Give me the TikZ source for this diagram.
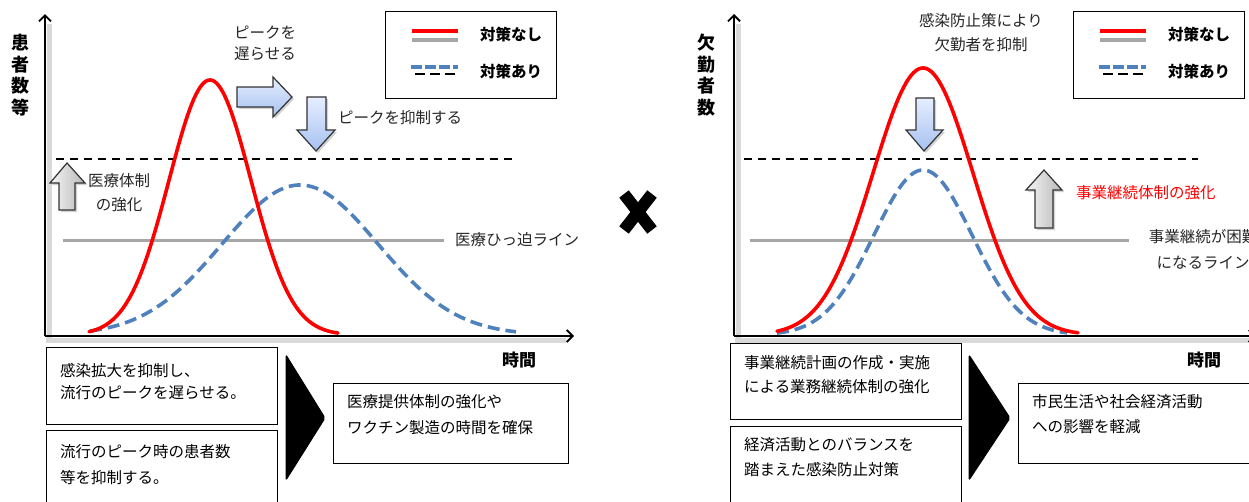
\documentclass[tikz,border=0pt]{standalone}
\usepackage{fontspec}
\setmainfont{Noto Sans CJK JP}
\usetikzlibrary{shadows,arrows.meta}
\definecolor{curvered}{HTML}{FF0000}
\definecolor{curveblue}{HTML}{4F81BD}
\definecolor{lvlgray}{HTML}{A6A6A6}
\definecolor{arrblueA}{HTML}{E6EEFF}
\definecolor{arrblueB}{HTML}{A6C1F0}
\definecolor{labtext}{HTML}{262626}
\begin{document}
\begin{tikzpicture}[x=1pt,y=-1pt,
  axisline/.style={line width=2.2pt,draw=black,-{Straight Barb[length=6pt,width=12pt,line width=1.8pt]}},
  axisshadow/.style={line width=5pt,draw=gray!30},
  redcurve/.style={line width=3.6pt,draw=curvered,line cap=round},
  bluecurve/.style={line width=3.6pt,draw=curveblue,dash pattern=on 12pt off 6pt},
  limitline/.style={line width=2.6pt,draw=black,dash pattern=on 8pt off 6pt},
  grayline/.style={line width=3pt,draw=lvlgray},
  legbox/.style={draw=black,line width=1.2pt,fill=white},
  txtbox/.style={draw=black,line width=1.2pt,anchor=north west,inner sep=0pt},
  lab/.style={font=\fontsize{15.5}{22}\selectfont,text=labtext,inner sep=0pt},
  boxtxt/.style={font=\fontsize{15.5}{22}\selectfont,text=black,inner sep=0pt,align=left,anchor=west},
  boldlab/.style={font=\fontsize{15.5}{20}\selectfont\bfseries,inner sep=0pt},
  vlab/.style={font=\fontsize{18}{21.5}\selectfont\bfseries,inner sep=0pt,align=center},
  bluearrow/.style={draw=black!80,line width=1.2pt,top color=arrblueA,bottom color=arrblueB,drop shadow={opacity=0.35,shadow xshift=2pt,shadow yshift=-2pt}},
  grayarrow/.style={draw=black!80,line width=1.2pt,left color=gray!8,right color=gray!55,drop shadow={opacity=0.35,shadow xshift=2pt,shadow yshift=-2pt}},
  chevron/.style={fill=black,draw=black,line width=1pt,rounded corners=2pt}
]
\useasboundingbox[fill=white] (0,0) rectangle (1249,501);

% ================= LEFT PANEL =================
% axes
\draw[axisshadow] (49,24) -- (49,340);
\draw[axisshadow] (46,340) -- (566,340);
\coordinate (LO) at (45,336);
\coordinate (LY) at (45,14);
\coordinate (LX) at (574,336);
\draw[axisline] (LO) -- (LY);
\draw[axisline] (LO) -- (LX);
\node[vlab] (ylabL) at (20,75) {患\\者\\数\\等};
\node[boldlab,font=\fontsize{17}{20}\selectfont\bfseries] (timeL) at (519,360) {時間};

% legend
\node[legbox,minimum width=171pt,minimum height=87pt,anchor=north west,inner sep=0pt] (legL) at (385,10.5) {};
\draw[line width=3.5pt,draw=curvered] (412,31) -- (458,31);
\draw[line width=3.5pt,draw=lvlgray] (412,40) -- (458,40);
\draw[line width=3.5pt,draw=curveblue,dash pattern=on 10.5pt off 3.5pt] (411,67) -- (458,67);
\draw[line width=2.6pt,draw=black,dash pattern=on 10pt off 5pt] (415,74) -- (456,74);
\node[boldlab,anchor=west] (legL1) at (480,35) {対策なし};
\node[boldlab,anchor=west] (legL2) at (480,72) {対策あり};

% levels
\draw[limitline] (56,159) -- (513,159);
\draw[grayline] (63,240) -- (444,240);
\node[lab,anchor=west] (limL) at (455,240) {医療ひっ迫ライン};

% curves
\draw[bluecurve] plot[domain=90:516,samples=120] (\x,{335-150*exp(-((\x-300)/78)*((\x-300)/78)/2)});
\draw[redcurve] plot[domain=89:338,samples=120] (\x,{335-255*exp(-((\x-210)/41)*((\x-210)/41)/2)});

% block arrows
\draw[bluearrow] (237,87) -- (273,87) -- (273,77) -- (292,97) -- (273,117) -- (273,107) -- (237,107) -- cycle;
\draw[bluearrow] (307,97) -- (326,97) -- (326,130) -- (335,130) -- (316,151) -- (297,130) -- (307,130) -- cycle;
\draw[grayarrow] (67,163) -- (85,183) -- (75,183) -- (75,210) -- (59,210) -- (59,183) -- (50,183) -- cycle;

\node[lab,align=center,font=\fontsize{15.5}{21}\selectfont] (delayL) at (265,43) {ピークを\\遅らせる};
\node[lab,anchor=west] (suppL) at (338,118) {ピークを抑制する};
\node[lab,align=center,font=\fontsize{15.5}{24}\selectfont] (medL) at (119,193) {医療体制\\の強化};

% boxes
\node[txtbox,minimum width=231pt,minimum height=77pt] (b1) at (46,347) {};
\node[boxtxt] (b1t) at (60,382) {感染拡大を抑制し、\\流行のピークを遅らせる。};
\node[txtbox,minimum width=231pt,minimum height=90pt] (b2) at (46,430) {};
\node[boxtxt,font=\fontsize{15.5}{26}\selectfont] (b2t) at (60,465) {流行のピーク時の患者数\\等を抑制する。};
\draw[chevron] (286,355) -- (325,418) -- (286,480) -- cycle;
\node[txtbox,minimum width=235pt,minimum height=80pt] (b3) at (333,383) {};
\node[boxtxt,font=\fontsize{15.5}{26}\selectfont] (b3t) at (347,415) {医療提供体制の強化や\\ワクチン製造の時間を確保};

% cross
\draw[line width=12pt,draw=black] (624,194) -- (652,230);
\draw[line width=12pt,draw=black] (652,194) -- (624,230);

% ================= RIGHT PANEL =================
\draw[axisshadow] (738,24) -- (738,340);
\draw[axisshadow] (735,340) -- (1249,340);
\coordinate (RO) at (734,336);
\coordinate (RY) at (734,14);
\coordinate (RX) at (1256,336);
\draw[axisline] (RO) -- (RY);
\draw[axisline] (RO) -- (RX);
\node[vlab] (ylabR) at (706,75) {欠\\勤\\者\\数};
\node[boldlab,font=\fontsize{17}{20}\selectfont\bfseries] (timeR) at (1204,360) {時間};

% legend
\node[legbox,minimum width=171pt,minimum height=87pt,anchor=north west,inner sep=0pt] (legR) at (1073,10.5) {};
\draw[line width=3.5pt,draw=curvered] (1100,31) -- (1146,31);
\draw[line width=3.5pt,draw=lvlgray] (1100,40) -- (1146,40);
\draw[line width=3.5pt,draw=curveblue,dash pattern=on 10.5pt off 3.5pt] (1099,67) -- (1146,67);
\draw[line width=2.6pt,draw=black,dash pattern=on 10pt off 5pt] (1103,74) -- (1144,74);
\node[boldlab,anchor=west] (legR1) at (1168,35) {対策なし};
\node[boldlab,anchor=west] (legR2) at (1168,72) {対策あり};

% levels
\draw[limitline] (744,159) -- (1198,159);
\draw[grayline] (750,240) -- (1129,240);
\node[lab,align=center,font=\fontsize{15.5}{26}\selectfont] (limR) at (1203,249) {事業継続が困難\\になるライン};

% curves
\draw[bluecurve] plot[domain=777:1067,samples=120] (\x,{335-165*exp(-((\x-923)/49)*((\x-923)/49)/2)});
\draw[redcurve] plot[domain=777:1078,samples=120] (\x,{335-267*exp(-((\x-923)/50)*((\x-923)/50)/2)});

% block arrows
\draw[bluearrow] (916,98) -- (934,98) -- (934,130) -- (943,130) -- (924,151) -- (906,130) -- (916,130) -- cycle;
\draw[grayarrow] (1044,170) -- (1062,190) -- (1053,190) -- (1053,228) -- (1035,228) -- (1035,190) -- (1026,190) -- cycle;

\node[lab,align=center,font=\fontsize{15.5}{24}\selectfont] (suppR) at (981,33) {感染防止策により\\欠勤者を抑制};
\node[lab,anchor=west,text=curvered] (bcpR) at (1076,193) {事業継続体制の強化};

% boxes
\node[txtbox,minimum width=231pt,minimum height=76pt] (r1) at (730,343) {};
\node[boxtxt,font=\fontsize{15.5}{24}\selectfont] (r1t) at (744,375) {事業継続計画の作成・実施\\による業務継続体制の強化};
\node[txtbox,minimum width=231pt,minimum height=90pt] (r2) at (730,426) {};
\node[boxtxt,font=\fontsize{15.5}{25}\selectfont] (r2t) at (744,457.5) {経済活動とのバランスを\\踏まえた感染防止対策};
\draw[chevron] (969,355) -- (1010,418) -- (969,480) -- cycle;
\node[txtbox,minimum width=245pt,minimum height=80pt] (r3) at (1018,383) {};
\node[boxtxt,font=\fontsize{15.5}{25}\selectfont] (r3t) at (1032,414.5) {市民生活や社会経済活動\\への影響を軽減};
\end{tikzpicture}
\end{document}
